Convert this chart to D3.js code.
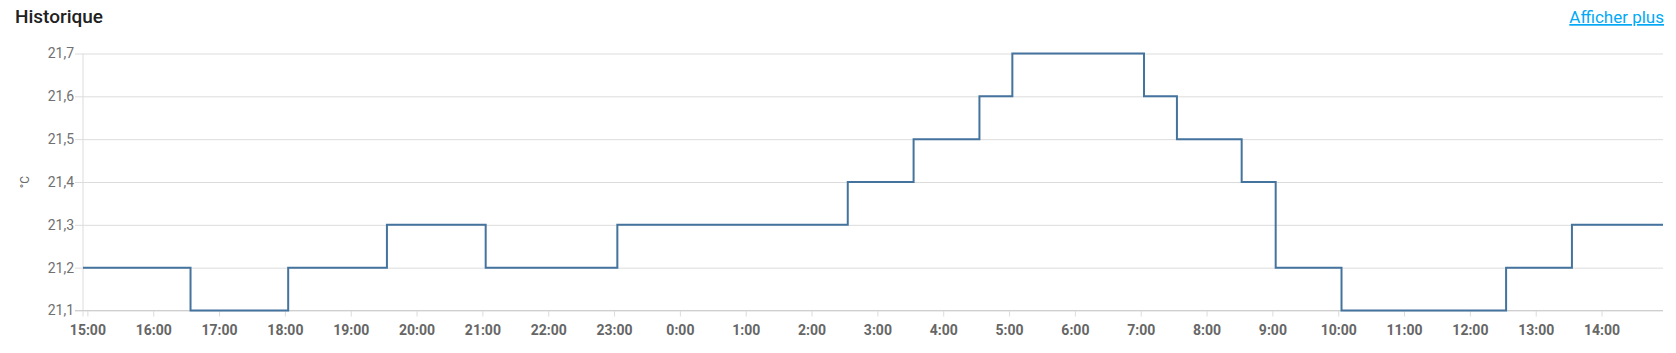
<!DOCTYPE html>
<html><head><meta charset="utf-8">
<script src="https://cdn.jsdelivr.net/npm/d3@7"></script>
<style>
html,body{margin:0;padding:0;background:#fff;}
svg{display:block;font-family:Roboto, sans-serif;}
</style></head>
<body><svg id="c" width="1676" height="353"></svg>
<script>
// Step series (time of change, new value)
const changeTimes = ["2024-01-01T14:56","2024-01-01T16:34","2024-01-01T18:03","2024-01-01T19:33","2024-01-01T21:03","2024-01-01T23:03","2024-01-02T02:33","2024-01-02T03:33","2024-01-02T04:33","2024-01-02T05:03","2024-01-02T07:03","2024-01-02T07:33","2024-01-02T08:32","2024-01-02T09:03","2024-01-02T10:03","2024-01-02T12:33","2024-01-02T13:33","2024-01-02T14:56"];
const temps = [21.2,21.1,21.2,21.3,21.2,21.3,21.4,21.5,21.6,21.7,21.6,21.5,21.4,21.2,21.1,21.2,21.3,21.3];
const yTicks = [21.1,21.2,21.3,21.4,21.5,21.6,21.7];
const title = "Historique";
const linkText = "Afficher plus";
const unit = "°C";

const parse = d3.timeParse("%Y-%m-%dT%H:%M");
const data = changeTimes.map((t,i)=>({t:parse(t), v:temps[i]}));

const svg = d3.select("#c");
const L=83, R=1663, T=53.5, B=310.5;
const x = d3.scaleTime().domain([parse("2024-01-01T14:56"), parse("2024-01-02T14:56")]).range([L,R]);
const y = d3.scaleLinear().domain([21.1,21.7]).range([B,T]);

svg.append("text").attr("x",15).attr("y",23).attr("font-size",19).attr("font-weight",500).attr("fill","#212121").text(title);
svg.append("text").attr("x",1664).attr("y",23).attr("text-anchor","end").attr("font-size",17).attr("fill","#03a9f4").attr("text-decoration","underline").text(linkText);

const fmtY = v => d3.format(".1f")(v).replace(".", ",");
const gy = svg.append("g").attr("transform",`translate(${L},0)`)
  .call(d3.axisLeft(y).tickValues(yTicks).tickSize(-(R-L)).tickPadding(4).tickFormat(fmtY));
gy.select(".domain").remove();
gy.selectAll(".tick line").attr("stroke","#dcdcdc").attr("x1",-8);
gy.selectAll(".tick text").attr("fill","#707070").attr("font-size",14).attr("font-family","Roboto").attr("x",-9);

const hours = d3.timeHour.range(parse("2024-01-01T15:00"), parse("2024-01-02T14:57"));
const gx = svg.append("g").attr("transform",`translate(0,${B})`)
  .call(d3.axisBottom(x).tickValues(hours).tickSize(-(B-T)).tickPadding(15).tickFormat(d3.timeFormat("%-H:%M")));
gx.select(".domain").remove();
gx.selectAll(".tick line").attr("stroke","#dcdcdc").attr("y2",6);
gx.selectAll(".tick text").attr("fill","#666").attr("font-size",14).attr("font-weight",700).attr("font-family","Roboto");

// left axis line
svg.append("line").attr("x1",L).attr("x2",L).attr("y1",T).attr("y2",B+6).attr("stroke","#dcdcdc");
// bottom axis line
svg.append("line").attr("x1",L-8).attr("x2",R).attr("y1",B).attr("y2",B).attr("stroke","#cfcfcf");

svg.append("text").attr("transform",`translate(29,${(T+B)/2}) rotate(-90)`).attr("text-anchor","middle")
  .attr("font-size",12).attr("fill","#666").text(unit);

const line = d3.line().x(d=>x(d.t)).y(d=>y(d.v)).curve(d3.curveStepAfter);
svg.append("path").datum(data).attr("d",line).attr("fill","none").attr("stroke","#44739e").attr("stroke-width",2);
</script></body></html>
